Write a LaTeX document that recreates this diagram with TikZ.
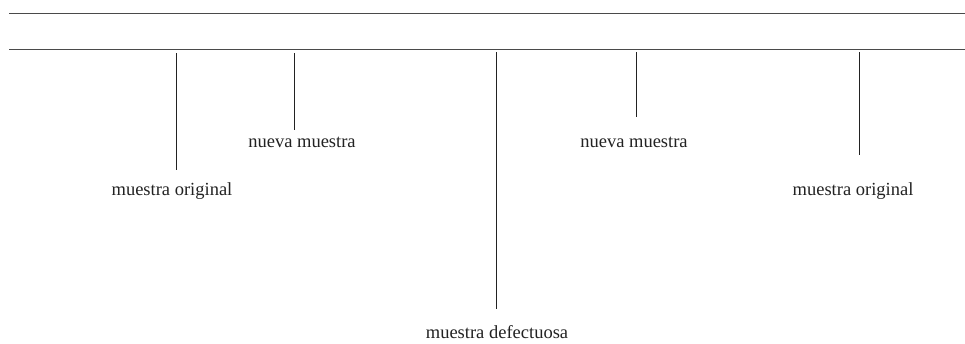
\documentclass[tikz,border=0pt]{standalone}
\usepackage{fontspec}
\setmainfont{Liberation Serif}
\usepackage{xcolor}
\definecolor{rule}{HTML}{4A4A4A}
\definecolor{ink}{HTML}{222222}

\begin{document}
\begin{tikzpicture}[
  x=1pt, y=-1pt,
  hline/.style={draw=rule, line width=0.9pt},
  tick/.style={draw=ink, line width=1pt},
  lbl/.style={anchor=base, inner sep=0pt, text=ink, font=\fontsize{18.5}{20}\selectfont}
]
\useasboundingbox (0,0) rectangle (965,343);

% two rails at the top
\coordinate (r1a) at (9,13);  \coordinate (r1b) at (965,13);
\coordinate (r2a) at (9,49);  \coordinate (r2b) at (965,49);
\draw[hline] (r1a) -- (r1b);
\draw[hline] (r2a) -- (r2b);

% labels
\node[lbl] (orig1) at (172,195) {muestra original};
\node[lbl] (new1)  at (302,147) {nueva muestra};
\node[lbl] (bad)   at (497,338) {muestra defectuosa};
\node[lbl] (new2)  at (634,147) {nueva muestra};
\node[lbl] (orig2) at (853,195) {muestra original};

% ticks hanging from the lower rail
\coordinate (t1) at (176,53);  \coordinate (e1) at (176,170);
\coordinate (t2) at (294,53);  \coordinate (e2) at (294,130);
\coordinate (t3) at (496,52);  \coordinate (e3) at (496,309);
\coordinate (t4) at (636,52);  \coordinate (e4) at (636,117);
\coordinate (t5) at (859,52);  \coordinate (e5) at (859,155);
\draw[tick] (t1) -- (e1);
\draw[tick] (t2) -- (e2);
\draw[tick] (t3) -- (e3);
\draw[tick] (t4) -- (e4);
\draw[tick] (t5) -- (e5);
\end{tikzpicture}
\end{document}
